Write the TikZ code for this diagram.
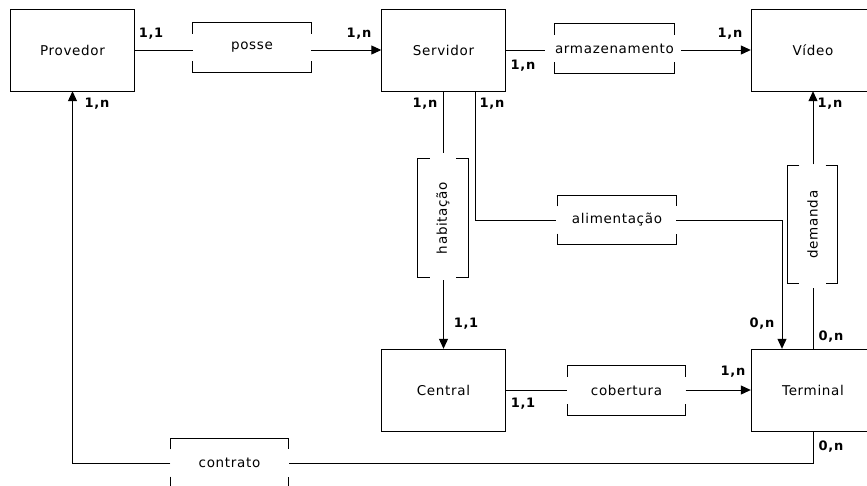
\documentclass[tikz,border=0pt]{standalone}
\usepackage{fontspec}
\setmainfont{DejaVu Sans}[LetterSpace=5]
\usepackage{graphicx}
\usetikzlibrary{arrows.meta}
\tikzset{
  ent/.style={draw, minimum width=124pt, minimum height=82pt, inner sep=0pt, font=\fontsize{13.5}{16}\selectfont},
  rel/.style={minimum width=118pt, minimum height=49pt, inner sep=0pt, font=\fontsize{13.5}{16}\selectfont},
  vrel/.style={minimum width=50pt, minimum height=118pt, inner sep=0pt, font=\fontsize{13.5}{16}\selectfont},
  card/.style={inner sep=0pt, font=\bfseries\fontsize{13}{15}\selectfont},
  lig/.style={line width=1pt},
  seta/.style={line width=1pt, -{Triangle[length=10pt,width=9pt]}}
}
\begin{document}
\begin{tikzpicture}[x=1pt,y=-1pt]
\useasboundingbox (0,0) rectangle (867,485);
\clip (0,0) rectangle (867,485);
\fill[white] (0,0) rectangle (867,485);
% entidades
\node[ent] (prov) at (72.5,50) {Provedor};
\node[ent] (serv) at (443.5,50) {Servidor};
\node[ent] (video) at (813,50) {Vídeo};
\node[ent] (central) at (443.5,390) {Central};
\node[ent] (term) at (813,390) {Terminal};
% relacionamentos
\node[rel] (posse) at (252,47.5) {posse};
\node[rel] (armaz) at (614.5,48.5) {armazenamento};
\node[rel] (alim) at (617,220) {alimentação};
\node[rel] (cobert) at (626.5,390.5) {cobertura};
\node[rel] (contr) at (229.5,463) {contrato};
\node[vrel] (habit) at (443,218) {\rotatebox{90}{habitação}};
\node[vrel] (dem) at (812.5,224.5) {\rotatebox{90}{demanda}};
\foreach \r in {posse,armaz,alim,cobert,contr} {
  \draw[lig] ([yshift=-11pt]\r.north west) -- (\r.north west) -- (\r.north east) -- ([yshift=-11pt]\r.north east);
  \draw[lig] ([yshift=11pt]\r.south west) -- (\r.south west) -- (\r.south east) -- ([yshift=11pt]\r.south east);
}
\foreach \r in {habit,dem} {
  \draw[lig] ([xshift=12pt]\r.north west) -- (\r.north west) -- (\r.south west) -- ([xshift=12pt]\r.south west);
  \draw[lig] ([xshift=-12pt]\r.north east) -- (\r.north east) -- (\r.south east) -- ([xshift=-12pt]\r.south east);
}
% ligacoes
\draw[lig] (prov.east) -- (prov.east -| posse.west);
\draw[seta] (serv.west -| posse.east) -- (serv.west);
\draw[lig] (serv.east) -- ([xshift=-10pt]serv.east -| armaz.west);
\draw[seta] ([xshift=7pt]video.west -| armaz.east) -- (video.west);
\draw[lig] (serv.south) -- ([yshift=6pt]serv.south |- habit.north);
\draw[seta] ([yshift=-3pt]central.north |- habit.south) -- (central.north);
\draw[lig] ([xshift=32pt]serv.south) |- ([xshift=-2pt]alim.west);
\draw[seta] (alim.east) -| ([xshift=-31pt]term.north);
\draw[lig] (term.north) -- ([yshift=-4pt]term.north |- dem.south);
\draw[seta] ([yshift=1pt]video.south |- dem.north) -- (video.south);
\draw[lig] (central.east) -- (central.east -| cobert.west);
\draw[seta] (term.west -| cobert.east) -- (term.west);
\draw[lig] (term.south) |- (contr.east);
\draw[seta] (contr.west) -| (prov.south);
% cardinalidades
\node[card] (c1) at (151,34) {1,1};
\node[card] (c2) at (359,34) {1,n};
\node[card] (c3) at (97,104) {1,n};
\node[card] (c4) at (523,66) {1,n};
\node[card] (c5) at (730,34) {1,n};
\node[card] (c6) at (425,104) {1,n};
\node[card] (c7) at (492,104) {1,n};
\node[card] (c8) at (830,104) {1,n};
\node[card] (c9) at (466,324) {1,1};
\node[card] (c10) at (762,324) {0,n};
\node[card] (c11) at (831,337) {0,n};
\node[card] (c12) at (733,372) {1,n};
\node[card] (c13) at (523,404) {1,1};
\node[card] (c14) at (831,447) {0,n};
\end{tikzpicture}
\end{document}
